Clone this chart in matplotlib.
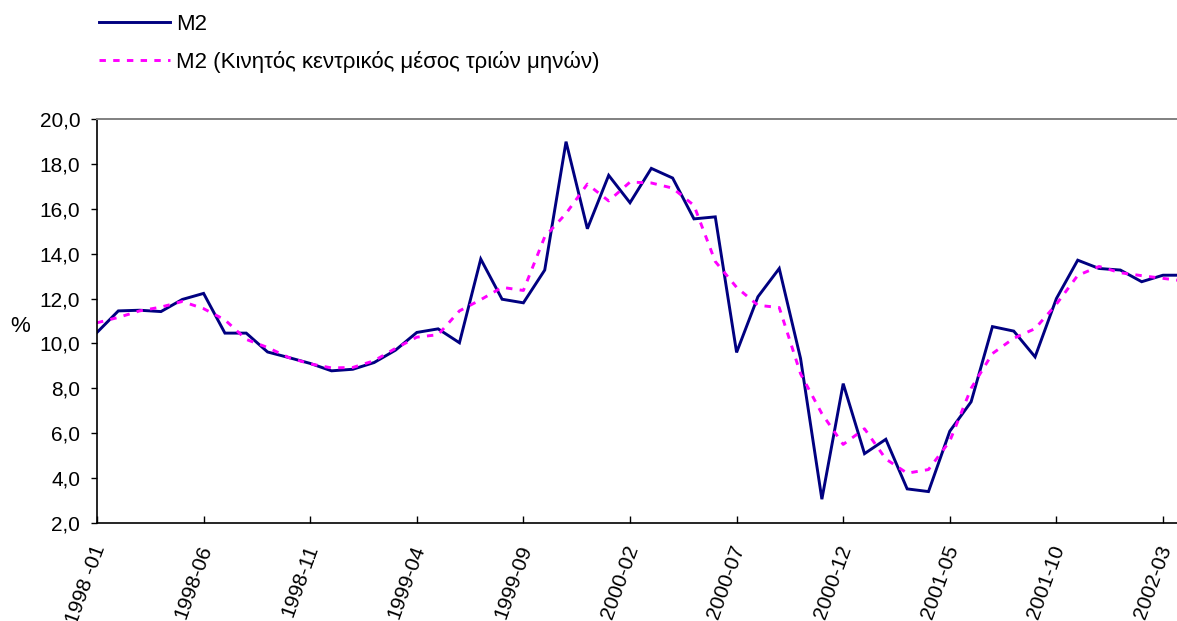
import matplotlib
matplotlib.use("Agg")
import matplotlib.pyplot as plt
import matplotlib.transforms as mtransforms
from matplotlib.ticker import FuncFormatter, MultipleLocator

plt.rcParams['font.family'] = ['Liberation Sans', 'DejaVu Sans']

# Monthly observations, January 1998 onwards
months = [f"{1998 + k // 12}-{k % 12 + 1:02d}" for k in range(52)]

m2 = [10.49, 11.45, 11.48, 11.42, 11.96, 12.23, 10.46, 10.46, 9.62, 9.37,
      9.11, 8.78, 8.85, 9.15, 9.70, 10.49, 10.65, 10.03, 13.76, 11.97,
      11.81, 13.27, 18.99, 15.11, 17.49, 16.27, 17.80, 17.37, 15.55, 15.64,
      9.60, 12.08, 13.34, 9.33, 3.06, 8.21, 5.09, 5.73, 3.52, 3.40,
      6.09, 7.40, 10.75, 10.55, 9.40, 12.00, 13.71, 13.34, 13.27, 12.75,
      13.04, 13.04]

m2_ma3 = [10.92, 11.16, 11.45, 11.62, 11.87, 11.55, 11.05, 10.18, 9.82, 9.37,
          9.09, 8.91, 8.93, 9.23, 9.78, 10.28, 10.39, 11.45, 11.95, 12.50,
          12.36, 14.75, 15.79, 17.10, 16.35, 17.19, 17.15, 16.92, 16.15, 13.65,
          12.50, 11.70, 11.60, 8.65, 6.87, 5.50, 6.20, 4.85, 4.22, 4.38,
          5.65, 8.00, 9.55, 10.23, 10.66, 11.75, 13.03, 13.43, 13.15, 13.02,
          12.90, 12.78]

tick_idx = [0, 5, 10, 15, 20, 25, 30, 35, 40, 45, 50]
tick_labels = ["1998 -01", "1998-06", "1998-11", "1999-04", "1999-09",
               "2000-02", "2000-07", "2000-12", "2001-05", "2001-10",
               "2002-03"]

W, H = 1177, 621
fig = plt.figure(figsize=(W / 100, H / 100), dpi=100)
ax = fig.add_axes([97 / W, 1 - 523 / H, 1 - 97 / W, (523 - 119) / H])

x = list(range(len(months)))
l1, = ax.plot(x, m2, color='#000080', lw=2.1, solid_joinstyle='miter',
              label='M2')
l2, = ax.plot(x, m2_ma3, color='#FF00FF', lw=2.1, linestyle=(0, (2.2, 2.5)),
              label='M2 (Κινητός κεντρικός μέσος τριών μηνών)')

ax.set_xlim(0, (W - 97) / 21.32)
ax.set_ylim(2, 20)
ax.yaxis.set_major_locator(MultipleLocator(2))
ax.yaxis.set_major_formatter(FuncFormatter(lambda v, p: f"{v:.1f}".replace('.', ',')))
ax.set_xticks(tick_idx)
ax.set_xticklabels(tick_labels, rotation=70, ha='right', va='top',
                   rotation_mode='anchor')

ax.tick_params(axis='y', direction='out', length=4.5, width=1, labelsize=15,
               pad=7.5, colors='black')
ax.tick_params(axis='x', direction='in', length=5, width=1, labelsize=15,
               pad=14, colors='black')

# nudge the slanted date labels so their upper ends sit just left of the ticks
shift = mtransforms.ScaledTranslation(-6 / 100, 0, fig.dpi_scale_trans)
for lbl in ax.get_xticklabels():
    lbl.set_transform(lbl.get_transform() + shift)

for s in ('left', 'bottom'):
    ax.spines[s].set_color('black')
    ax.spines[s].set_linewidth(1.2)
ax.spines['top'].set_color('#808080')
ax.spines['top'].set_linewidth(1.4)
ax.spines['right'].set_visible(False)

fig.text(20 / W, 1 - 327 / H, '%', ha='center', va='center', fontsize=16)

fig.legend(handles=[l1, l2], loc='upper left',
           bbox_to_anchor=(99 / W, 1 - 14 / H), frameon=False,
           fontsize=16, handlelength=3.2, handletextpad=0.25,
           labelspacing=0.7, borderpad=0, borderaxespad=0)

fig.savefig('out.png', dpi=100)
